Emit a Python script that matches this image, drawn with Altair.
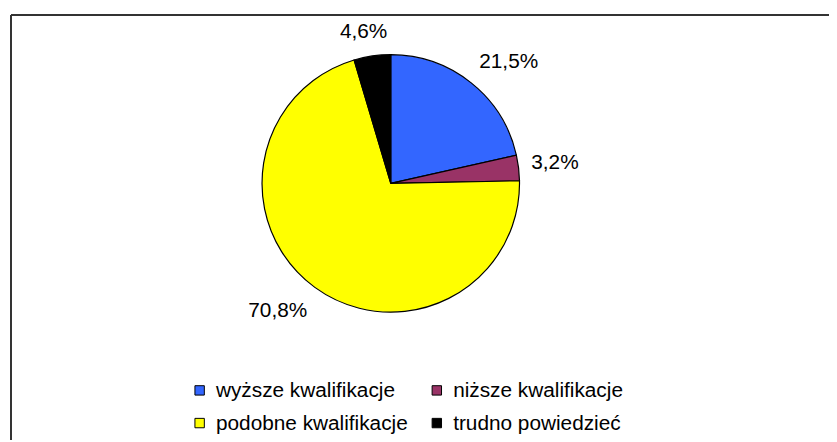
import altair as alt
import pandas as pd

categories = ["wyższe kwalifikacje", "niższe kwalifikacje", "podobne kwalifikacje", "trudno powiedzieć"]
values = [21.5, 3.2, 70.8, 4.6]
labels = ["21,5%", "3,2%", "70,8%", "4,6%"]
colors = ["#3366FF", "#993366", "#FFFF00", "#000000"]
legend_col = [0, 1, 0, 1]
legend_row = [0, 0, 1, 1]

df = pd.DataFrame({"cat": categories, "val": values, "lab": labels, "idx": list(range(len(categories)))})
leg = pd.DataFrame({"cat": categories, "col": legend_col, "row": legend_row})

W, H = 829, 434
CX, CY, R = 386.5, 175, 130
RG = 143          # distance from centre to the label anchor
CHW, LH = 11.9, 24  # approx. char width and box height of the label font
FONT = "Liberation Sans"

color = alt.Color("cat:N", scale=alt.Scale(domain=categories, range=colors), legend=None)

pie = alt.Chart(df).mark_arc(outerRadius=R, stroke="#000000", strokeWidth=1.2).encode(
    theta=alt.Theta("val:Q", stack=True),
    order=alt.Order("idx:Q"),
    color=color,
    x=alt.value(CX),
    y=alt.value(CY),
)

# Excel-like "outside end" placement of the percentage labels
txt = alt.Chart(df).transform_window(
    cum="sum(val)", sort=[alt.SortField("idx")], frame=[None, 0]
).transform_joinaggregate(
    tot="sum(val)"
).transform_calculate(
    a="2*PI*(datum.cum - datum.val/2)/datum.tot",
).transform_calculate(
    lx=f"{CX} + {RG}*sin(datum.a) + length(datum.lab)*{CHW}/2*clamp(2*sin(datum.a),-1,1)",
    ly=f"{CY} - {RG}*cos(datum.a) - {LH}/2*clamp(3*cos(datum.a),-1,1) + 1",
).mark_text(font=FONT, fontSize=21, color="#000000", baseline="middle").encode(
    x=alt.X("lx:Q", scale=None, axis=None),
    y=alt.Y("ly:Q", scale=None, axis=None),
    text="lab:N",
)

xs = alt.Scale(domain=[0, 1], range=[193.5, 433])
ys = alt.Scale(domain=[0, 1], range=[384, 417])

leg_sq = alt.Chart(leg).mark_square(size=90, stroke="#000000", strokeWidth=1, opacity=1).encode(
    x=alt.X("col:Q", scale=xs, axis=None),
    y=alt.Y("row:Q", scale=ys, axis=None),
    color=color,
)
leg_txt = alt.Chart(leg).mark_text(align="left", baseline="middle", dx=16.5, dy=1, font=FONT, fontSize=21, color="#000000").encode(
    x=alt.X("col:Q", scale=xs, axis=None),
    y=alt.Y("row:Q", scale=ys, axis=None),
    text="cat:N",
)

border_top = alt.Chart(df).mark_rule(color="#333333", strokeWidth=1.5).encode(
    x=alt.value(3), x2=alt.value(W), y=alt.value(5)
)
border_left = alt.Chart(df).mark_rule(color="#333333", strokeWidth=1.5).encode(
    x=alt.value(3), y=alt.value(5), y2=alt.value(H)
)

chart = alt.layer(border_top, border_left, pie, txt, leg_sq, leg_txt).resolve_scale(
    x="independent", y="independent"
).properties(
    width=W, height=H, autosize=alt.AutoSizeParams(type="none"), padding=0
).configure_view(strokeWidth=0)

chart.save("out.html", embed_options={"renderer": "svg", "actions": False})
